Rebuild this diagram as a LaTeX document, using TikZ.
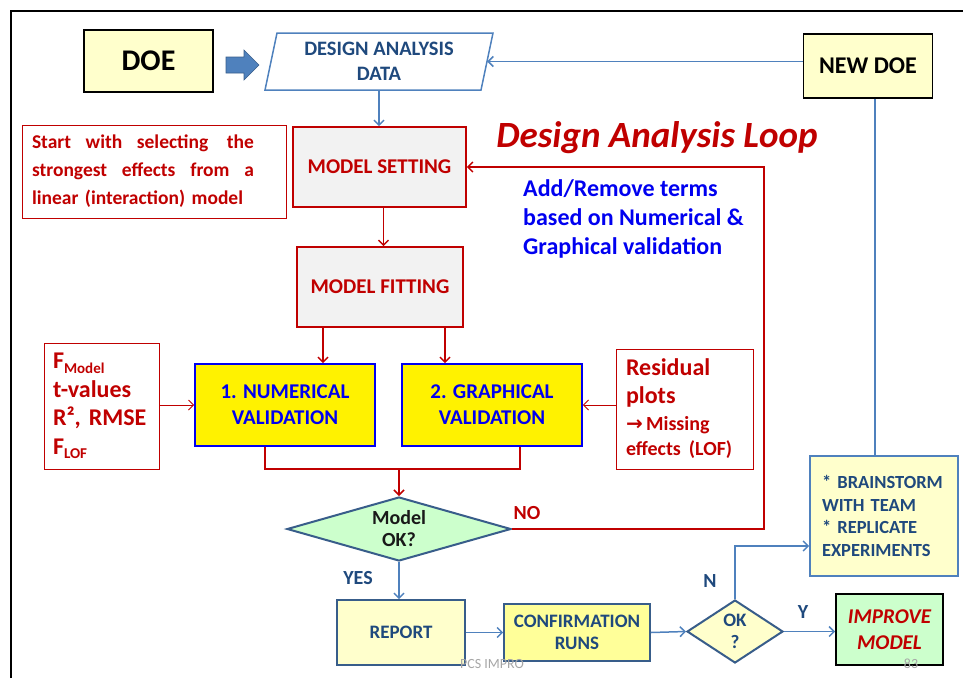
\documentclass[tikz,border=0pt]{standalone}
\usepackage{fontspec}
\setmainfont{Carlito}
\newfontfamily\dejavu{DejaVu Sans}
\usetikzlibrary{shapes.geometric,arrows.meta,calc}
\definecolor{dred}{HTML}{C00000}
\definecolor{lblue}{HTML}{4F81BD}
\definecolor{bblue}{HTML}{385D8A}
\definecolor{tblue}{HTML}{1F497D}
\definecolor{vblue}{HTML}{0000F0}
\definecolor{lyel}{HTML}{FFFFCC}
\definecolor{cyel}{HTML}{FFFF99}
\definecolor{lgreen}{HTML}{CCFFCC}
\definecolor{lgray}{HTML}{F2F2F2}
\newcommand{\fsz}[2]{\fontsize{#1}{#2}\selectfont\bfseries}
\tikzset{
  base/.style={inner sep=0pt, align=center},
  blackbox/.style={base, draw=black, line width=1.8pt, fill=lyel},
  redbox/.style={base, draw=dred, line width=1.6pt, fill=lgray, text=dred, font=\fsz{21}{24}},
  valbox/.style={base, draw=vblue, line width=1.6pt, fill=yellow, text=vblue, font=\fsz{21}{26}},
  notebox/.style={inner sep=0pt, draw=dred, line width=0.8pt, text=dred, align=left},
  bluebox/.style={base, draw=bblue, line width=1.6pt, text=tblue, font=\fsz{19}{22}},
  dia/.style={diamond, aspect=3, base, draw=bblue, line width=2pt},
  redln/.style={draw=dred, line width=1.5pt},
  redarr/.style={redln, -{Straight Barb[length=5pt,width=10pt]}},
  bluln/.style={draw=lblue, line width=1.5pt},
  bluarr/.style={bluln, -{Straight Barb[length=5pt,width=10pt]}},
  lbl/.style={inner sep=0pt, anchor=base},
}
\begin{document}
\begin{tikzpicture}[x=1pt,y=-1pt]
\useasboundingbox (0,0) rectangle (963,678);
% frame
\draw[line width=1.8pt, black] (11,678) -- (11,11) -- (963,11);

% top row
\node[blackbox, minimum width=129, minimum height=62, font=\fsz{30}{34}] (doe) at (148.5,61) {DOE};
\fill[lblue, draw=bblue, line width=0.6pt] (226,57) -- (244,57) -- (244,50) -- (259,65) -- (244,80) -- (244,73) -- (226,73) -- cycle;
\draw[lblue, line width=1.5pt] (277,33) -- (493,33) -- (481,90) -- (265,90) -- cycle;
\node[base, minimum width=216, minimum height=57, text=tblue, font=\fsz{20.5}{25}] (dad) at (379,61.5) {DESIGN ANALYSIS\\DATA};
\node[blackbox, minimum width=129, minimum height=64, font=\fsz{24}{28}] (newdoe) at (868,66) {NEW DOE};

% note
\node[notebox, minimum width=264, minimum height=93, text width=244, inner xsep=10pt, font=\fsz{19.5}{28}] (note) at (154,171.5)
  {\makebox[222pt][l]{Start\hfill with\hfill selecting\hfill\hspace{4pt}the}\\\makebox[222pt][l]{strongest\hfill effects\hfill from\hfill a}\\linear (interaction) model};

% loop title
\node[lbl, text=dred, font=\fontsize{37}{40}\selectfont\bfseries\itshape] (title) at (657,147) {Design Analysis Loop};

% model setting / fitting
\node[redbox, minimum width=173, minimum height=80] (ms) at (379.5,167) {MODEL SETTING};
\node[redbox, minimum width=166, minimum height=80] (mf) at (380,287) {MODEL FITTING};

% add/remove
\node[inner sep=0pt, anchor=north west, align=left, text=vblue, font=\fsz{24}{29}] (addrem) at (523,179)
  {Add/Remove terms\\based on Numerical \&\\Graphical validation};

% validation boxes
\node[valbox, minimum width=180, minimum height=82] (num) at (285,405) {1. NUMERICAL\\VALIDATION};
\node[valbox, minimum width=180, minimum height=82] (gra) at (492,405) {2. GRAPHICAL\\VALIDATION};

% F box
\node[notebox, minimum width=115, minimum height=126, text width=100, inner xsep=7.5pt, font=\fsz{24}{28.5}] (fb) at (101.5,406)
  {\hspace{1.5pt}F\raisebox{-0.35ex}{\fsz{15}{15}Model}\\\hspace*{1.5pt}t-values\\\hspace*{1.5pt}R², RMSE\\\hspace*{1.5pt}F\raisebox{-0.35ex}{\fsz{15}{15}LOF}};

% residual box
\node[notebox, minimum width=131, minimum height=120, text width=117, inner xsep=10pt, font=\fsz{24}{28}] (rb) at (684.5,409)
  {Residual\\plots\\[-1pt]{\fsz{20}{28}{\dejavu\bfseries\fontsize{20}{20}\selectfont →}\,Missing}\\[-3pt]{\fsz{20}{26}effects (LOF)}};

% decision
\node[dia, fill=lgreen, minimum width=224, minimum height=64, text=black!90, font=\fsz{20}{22}] (mok) at (399,529) {Model\\OK?};
\node[lbl, text=dred, font=\fsz{20}{24}] (no) at (527,519) {NO};
\node[lbl, text=tblue, font=\fsz{20}{24}] (yes) at (358,584) {YES};

% bottom row
\node[bluebox, fill=lyel, minimum width=128, minimum height=65] (rep) at (401,632.5) {REPORT};
\node[bluebox, fill=cyel, minimum width=146, minimum height=57] (conf) at (577,632.5) {CONFIRMATION\\RUNS};
\node[dia, aspect=1.5, fill=lyel, minimum width=96, minimum height=63, text=tblue, font=\fsz{19}{22}] (ok) at (735,631.5) {OK\\?};
\node[base, draw=black, line width=1.8pt, fill=lgreen, minimum width=107, minimum height=71, text=dred, font=\fontsize{21}{26}\selectfont\bfseries\itshape] (imp) at (889.5,629.5) {IMPROVE\\MODEL};
\node[bluebox, fill=lyel, draw=lblue, minimum width=148, minimum height=120, text width=124, inner xsep=12pt, align=left, font=\fsz{18.5}{22.5}] (bs) at (884,516)
  {* BRAINSTORM\\{}WITH TEAM\\{}* REPLICATE\\{}EXPERIMENTS};
\node[lbl, text=tblue, font=\fsz{20}{24}] (nlab) at (710,587) {N};
\node[lbl, text=tblue, font=\fsz{20}{24}] (ylab) at (803,618) {Y};

% footer
\node[lbl, text=black!35, font=\fontsize{14}{16}\selectfont] (foot) at (492,668) {PCS IMPRO};
\node[lbl, text=black!35, font=\fontsize{14}{16}\selectfont] (page) at (911,668) {83};

% connectors
\draw[bluarr] (newdoe.west |- dad.east) -- (dad.east);
\draw[bluarr] (dad.south) -- (dad.south |- ms.north);
\draw[bluln] ([xshift=7pt]newdoe.south) -- ([xshift=7pt]newdoe.south |- bs.north);
\draw[redarr] ([xshift=4pt]ms.south) -- ([xshift=4pt]ms.south |- mf.north);
\draw[redarr] ([xshift=-57pt]mf.south) -- ([xshift=-57pt]mf.south |- num.north);
\draw[redarr] ([xshift=65pt]mf.south) -- ([xshift=65pt]mf.south |- gra.north);
\draw[redln] ([xshift=-20pt]num.south) -- ++(0,22) -| ([xshift=28pt]gra.south);
\coordinate (mj) at ($([xshift=-20pt]num.south)+(0,22)$);
\draw[redarr] (mj -| mok.north) -- (mok.north);
\draw[redarr, line width=1pt] (fb.east |- num.west) -- (num.west);
\draw[redarr, line width=1pt] (rb.west |- gra.east) -- (gra.east);
\draw[redarr] (mok.east) -- ++(252,0) |- (ms.east);
\draw[bluarr] (mok.south) -- (mok.south |- rep.north);
\draw[bluarr] (rep.east) -- (conf.west);
\draw[bluarr] (conf.east) -- (ok.west);
\draw[bluarr] (ok.east) -- (imp.west |- ok.east);
\draw[bluarr] (ok.north) |- ([yshift=-30pt]bs.west);
\end{tikzpicture}
\end{document}
